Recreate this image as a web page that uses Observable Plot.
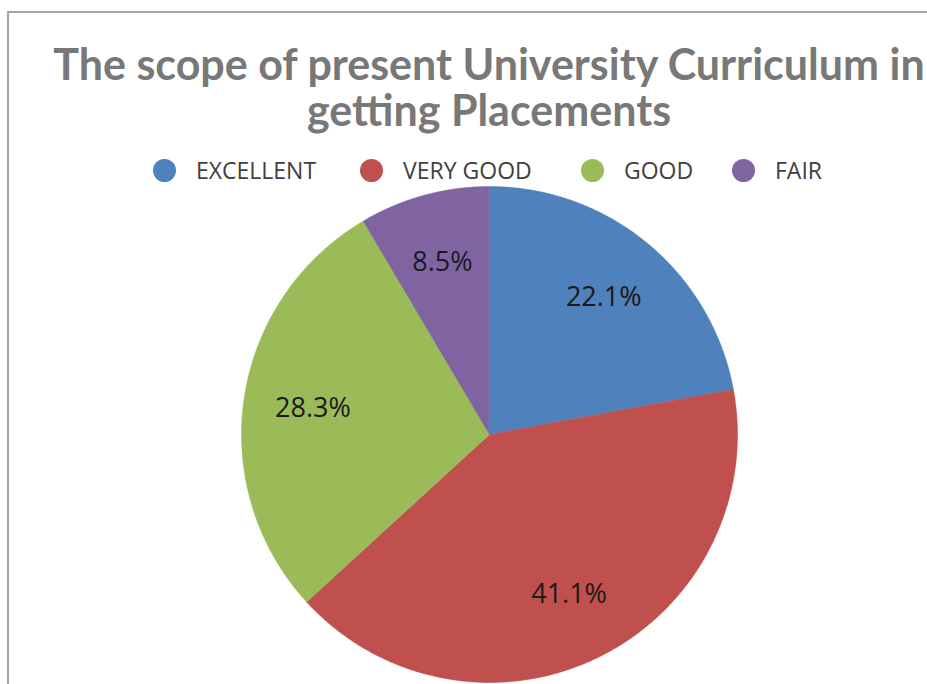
<!DOCTYPE html>
<html>
<head>
<meta charset="utf-8">
<script src="https://cdn.jsdelivr.net/npm/d3@7"></script>
<script src="https://cdn.jsdelivr.net/npm/@observablehq/plot@0.6"></script>
<style>
  html, body { margin: 0; padding: 0; background: #fff; }
  #wrap { position: relative; width: 927px; height: 684px; overflow: hidden; background: #fff; }
  #frame { position: absolute; left: 7px; top: 11px; width: 940px; height: 700px;
           border-top: 2px solid #a6a6a6; border-left: 2px solid #a6a6a6; box-sizing: border-box; }
  #title { position: absolute; left: 0; top: 41px; width: 978px; text-align: center;
           font-family: Lato, "Open Sans", sans-serif; font-weight: 700; font-size: 43px;
           line-height: 46px; color: #787878; white-space: nowrap; }
  #legend { position: absolute; top: 155px; left: 0; width: 978px; height: 30px;
            font-family: "Open Sans", sans-serif; font-size: 23px; color: #404040; }
  .item { position: absolute; top: 0; height: 30px; display: flex; align-items: center; white-space: nowrap; }
  .sw { width: 23px; height: 23px; border-radius: 50%; margin-right: 20px; flex: none; }
  #plot { position: absolute; left: 0; top: 0; }
</style>
</head>
<body>
<div id="wrap">
  <div id="frame"></div>
  <div id="plot"></div>
  <div id="title">The scope of present University Curriculum in<br>getting Placements</div>
  <div id="legend"></div>
</div>
<script>
// Data
const categories = ["EXCELLENT", "VERY GOOD", "GOOD", "FAIR"];
const percents = [22.1, 41.1, 28.3, 8.5];
const colors = ["#4F81BD", "#C0504D", "#9BBB59", "#8064A2"];
const legendX = [153, 360, 581, 732]; // legend item left edges

// Build slice outlines from the values (angles clockwise from 12 o'clock)
const total = d3.sum(percents);
const slices = [];
const labels = [];
let acc = 0;
categories.forEach((c, i) => {
  const a0 = acc / total * 2 * Math.PI;
  acc += percents[i];
  const a1 = acc / total * 2 * Math.PI;
  slices.push({cat: c, x: 0, y: 0});
  const n = Math.max(2, Math.ceil((a1 - a0) / (Math.PI / 360)));
  for (let k = 0; k <= n; k++) {
    const t = a0 + (a1 - a0) * k / n;
    slices.push({cat: c, x: Math.sin(t), y: Math.cos(t)});
  }
  slices.push({cat: c, x: 0, y: 0});
  const m = (a0 + a1) / 2;
  labels.push({cat: c, x: 0.72 * Math.sin(m), y: 0.72 * Math.cos(m), text: percents[i].toFixed(1) + "%"});
});

const cx = 489, cy = 434, r = 248;
const chart = Plot.plot({
  width: 927,
  height: 684,
  margin: 0,
  x: {domain: [-1, 1], range: [cx - r, cx + r], axis: null},
  y: {domain: [-1, 1], range: [cy + r, cy - r], axis: null},
  color: {domain: categories, range: colors},
  marks: [
    Plot.line(slices, {x: "x", y: "y", z: "cat", fill: "cat", stroke: "cat", strokeWidth: 0.5, curve: "linear"}),
    Plot.text(labels, {x: "x", y: "y", text: "text", fill: "#1a1a1a", fontSize: 27,
                       fontFamily: "'Open Sans', sans-serif"})
  ]
});
chart.style.background = "transparent";
document.getElementById("plot").appendChild(chart);

// Legend
const leg = document.getElementById("legend");
categories.forEach((c, i) => {
  const it = document.createElement("div");
  it.className = "item";
  it.style.left = legendX[i] + "px";
  const sw = document.createElement("div");
  sw.className = "sw";
  sw.style.background = colors[i];
  const tx = document.createElement("span");
  tx.textContent = c;
  it.appendChild(sw);
  it.appendChild(tx);
  leg.appendChild(it);
});
</script>
</body>
</html>
